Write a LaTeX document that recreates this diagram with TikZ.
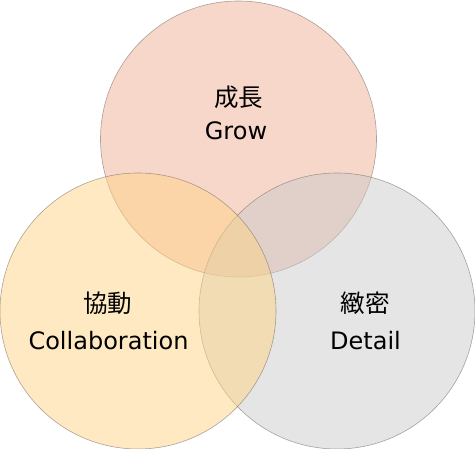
\documentclass[tikz,border=0pt]{standalone}
\usepackage{fontspec}
\setmainfont{DejaVu Sans}
\newfontfamily\jpfont{Noto Sans CJK JP}
\definecolor{cgrow}{RGB}{241,175,151}
\definecolor{cdetail}{RGB}{203,203,203}
\definecolor{ccollab}{RGB}{255,211,133}
\definecolor{cedge}{RGB}{120,110,100}
\tikzset{
  venn/.style={circle, minimum size=276pt, inner sep=0pt, fill opacity=0.5, draw opacity=0.6, draw=cedge, line width=0.6pt},
  lbl/.style={font=\fontsize{24}{28}\selectfont, text=black, align=center, inner sep=0pt},
  jlbl/.style={font=\jpfont\fontsize{24.5}{28}\selectfont, text=black, align=center, inner sep=0pt}
}
\begin{document}
\begin{tikzpicture}[x=1pt,y=-1pt]
\useasboundingbox (0,0) rectangle (475,449);
\node[venn, fill=cgrow] (grow) at (238.5,139) {};
\node[venn, fill=cdetail] (detail) at (337,311) {};
\node[venn, fill=ccollab] (collab) at (138,311) {};
\node[jlbl] (growjp) at (238.5,97) {成長};
\node[lbl] (growen) at (236,131) {Grow};
\node[jlbl] (collabjp) at (108,303) {協動};
\node[lbl] (collaben) at (108.5,341) {Collaboration};
\node[jlbl] (detailjp) at (365,303) {緻密};
\node[lbl] (detailen) at (365.5,341) {Detail};
\end{tikzpicture}
\end{document}
